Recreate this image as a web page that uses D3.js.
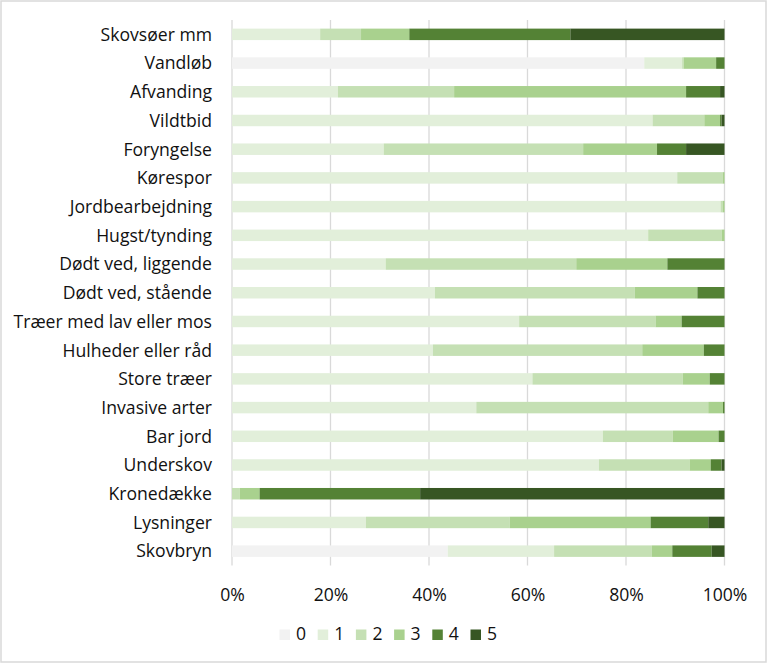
<!DOCTYPE html>
<html><head><meta charset="utf-8">
<script src="https://cdn.jsdelivr.net/npm/d3@7/dist/d3.min.js"></script>
<style>html,body{margin:0;padding:0;background:#fff;} svg{display:block;}</style>
</head><body>
<script>
const categories = ["Skovsøer mm","Vandløb","Afvanding","Vildtbid","Foryngelse","Kørespor","Jordbearbejdning","Hugst/tynding","Dødt ved, liggende","Dødt ved, stående","Træer med lav eller mos","Hulheder eller råd","Store træer","Invasive arter","Bar jord","Underskov","Kronedække","Lysninger","Skovbryn"];
const score0 = [0,83.7,0,0,0,0,0,0,0,0,0,0,0,0,0,0,0,0,43.8];
const score1 = [17.9,7.7,21.5,85.4,30.8,90.4,99.2,84.5,31.2,41.2,58.3,40.8,61.0,49.6,75.3,74.5,0,27.2,21.6];
const score2 = [8.3,0.3,23.6,10.5,40.5,9.2,0.4,14.9,38.7,40.6,27.7,42.5,30.5,47.1,14.2,18.4,1.6,29.2,19.8];
const score3 = [9.8,6.6,47.1,3.2,15.0,0.4,0.4,0.6,18.5,12.7,5.3,12.5,5.5,3.0,9.3,4.3,4.0,28.6,4.2];
const score4 = [32.7,1.7,6.9,0.3,5.9,0,0,0,11.6,5.5,8.7,4.2,3.0,0.3,1.2,2.2,32.6,11.7,8.0];
const score5 = [31.3,0,0.9,0.6,7.8,0,0,0,0,0,0,0,0,0,0,0.6,61.8,3.3,2.6];
const seriesNames = ["0","1","2","3","4","5"];
const seriesValues = [score0,score1,score2,score3,score4,score5];
const tickValues = [0,20,40,60,80,100];
const colors = ["#F2F2F2","#E2EFDA","#C5E0B4","#A9D18E","#548235","#375623"];

const W = 768, H = 664;
const font = "'Open Sans', Lato, sans-serif";
const fs = 17.6;
const svg = d3.select("body").append("svg").attr("width", W).attr("height", H);

svg.append("rect").attr("x",1).attr("y",1).attr("width",765).attr("height",661)
  .attr("fill","#fff").attr("stroke","#D9D9D9").attr("stroke-width",1.5);

const x = d3.scaleLinear().domain([0,100]).range([232,724.5]);
const y = d3.scaleBand().domain(categories).range([20,565.5]).paddingInner(0.6).paddingOuter(0.3);

// gridlines
svg.append("g").selectAll("line").data(tickValues).join("line")
  .attr("x1", d=>x(d)).attr("x2", d=>x(d)).attr("y1",20).attr("y2",565.5)
  .attr("stroke","#D9D9D9").attr("stroke-width",1.3);

const rows = categories.map((c,i)=>{const o={cat:c}; seriesNames.forEach((s,j)=>o[s]=seriesValues[j][i]); return o;});
const stack = d3.stack().keys(seriesNames)(rows);

svg.append("g").selectAll("g").data(stack).join("g")
  .attr("fill",(d,i)=>colors[i])
  .selectAll("rect").data(d=>d).join("rect")
  .attr("x", d=>x(d[0])).attr("width", d=>Math.max(0,x(d[1])-x(d[0])))
  .attr("y", d=>y(d.data.cat)).attr("height", y.bandwidth());

// category labels
svg.append("g").selectAll("text").data(categories).join("text")
  .attr("x",212).attr("y", d=>y(d)+y.bandwidth()/2).attr("dy","0.36em")
  .attr("text-anchor","end").attr("font-family",font).attr("font-size",fs).attr("fill","#111")
  .text(d=>d);

// x axis tick labels
const xAxis = d3.axisBottom(x).tickValues(tickValues).tickFormat(d=>d+"%").tickSize(0).tickPadding(0);
const ax = svg.append("g").attr("transform","translate(0,588)").call(xAxis);
ax.select(".domain").remove();
ax.selectAll("text").attr("font-family",font).attr("font-size",fs).attr("fill","#111");

// legend
const lg = svg.append("g").selectAll("g").data(seriesNames).join("g")
  .attr("transform",(d,i)=>`translate(${279.5+i*38.2},629.5)`);
lg.append("rect").attr("width",10.5).attr("height",10.5).attr("fill",(d,i)=>colors[i]);
lg.append("text").attr("x",16.5).attr("y",5.25).attr("dy","0.32em")
  .attr("font-family",font).attr("font-size",fs).attr("fill","#111").text(d=>d);
</script>
</body></html>
